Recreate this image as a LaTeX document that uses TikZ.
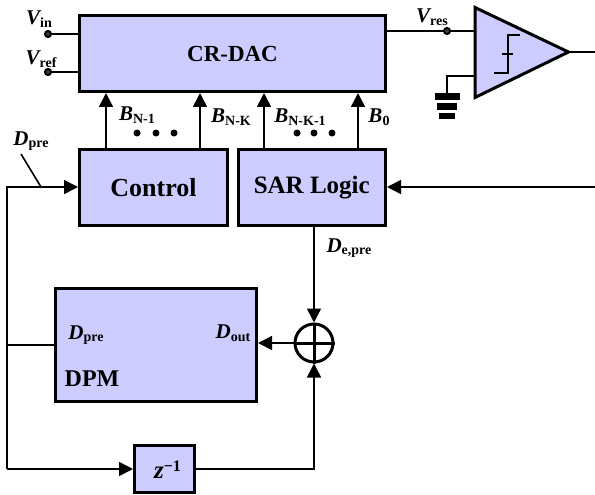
\documentclass[tikz,border=0pt]{standalone}
\usepackage{fontspec}
\setmainfont{Liberation Serif}
\usetikzlibrary{arrows.meta}
\definecolor{blockblue}{HTML}{CCCCFF}
\newcommand{\siglabel}[2]{{\fontsize{21}{21}\selectfont\bfseries\itshape #1}\raisebox{-2.5pt}{\fontsize{14}{14}\selectfont\bfseries #2}}
\tikzset{
  block/.style={draw, line width=3pt, fill=blockblue, inner sep=0pt, anchor=north west, font=\fontsize{24}{24}\selectfont\bfseries},
  wire/.style={line width=1.6pt},
  sig/.style={wire, -{Triangle[length=14pt,width=14pt]}},
  pin/.style={circle, draw, line width=2pt, fill=blockblue!30!black, minimum size=6pt, inner sep=0pt},
  tag/.style={inner sep=0pt},
  gndbar/.style={fill=black, inner sep=0pt, minimum height=6.5pt}
}
\begin{document}
\begin{tikzpicture}[x=1pt,y=-1pt]
  \useasboundingbox (0,0) rectangle (595,495);
  % blocks
  \node[block, minimum width=306pt, minimum height=76pt, font=\fontsize{23}{23}\selectfont\bfseries] (dac) at (78,14) {CR-DAC};
  \node[block, minimum width=148pt, minimum height=76pt, font=\fontsize{26}{26}\selectfont\bfseries] (ctrl) at (78,148) {Control};
  \node[block, minimum width=147.5pt, minimum height=76pt, font=\fontsize{25}{25}\selectfont\bfseries] (sar) at (236.5,148) {SAR Logic};
  \node[block, minimum width=201pt, minimum height=113pt] (dpm) at (54,287) {};
  \node[block, minimum width=60pt, minimum height=47pt] (zinv) at (133,444) {};
  \node[circle, draw, line width=3pt, fill=white, minimum size=38pt, inner sep=0pt] (add) at (314,343) {};
  \draw[line width=3pt] (add.west) -- (add.east) (add.north) -- (add.south);
  % comparator
  \draw[line width=3pt, fill=blockblue, line join=miter] (475,7.5) coordinate (cmpa) -- (568.5,52) coordinate (cmpo) -- (475,97.5) coordinate (cmpb) -- cycle;
  \draw[wire] (494,73) -- (508,73) -- (508,35) -- (520,35) (502,54) -- (513,54);
  % pins
  \node[pin] (vin) at (48,34) {};
  \node[pin] (vref) at (48,72) {};
  \node[pin] (vres) at (447,31) {};
  \coordinate (gnd) at (447,94);
  \coordinate (out) at (595,52);
  \coordinate (fb) at (595,187);
  \coordinate (left) at (7,187);
  \coordinate (tapa) at (7,345);
  \coordinate (tapb) at (7,469);
  % wires
  \draw[wire] (vin) -- (vin -| dac.west);
  \draw[wire] (vref) -- (vref -| dac.west);
  \draw[wire] (vres -| dac.east) -- (vres) -- (vres -| cmpa);
  \draw[wire] (cmpo) -- (out);
  \draw[wire] (cmpa |- 0,76) -- (447,76) -- (gnd);
  \foreach \y/\w/\n in {96.5/25/a,106.5/20/b,116/16/c}
    \node[gndbar, minimum width=\w pt] (gnd\n) at (447,\y) {};
  \foreach \x/\n in {106/a,200/b}
    \draw[sig] (\x,149) coordinate (bit\n) -- (bit\n |- dac.south);
  \foreach \x/\n in {264/c,358/d}
    \draw[sig] (\x,149) coordinate (bit\n) -- (bit\n |- dac.south);
  \draw[sig] (fb) -- (fb -| sar.east);
  \draw[sig] (tapb) -- (left) -- (left -| ctrl.west);
  \draw[wire] (tapa) -- (tapa -| dpm.west);
  \draw[sig] (tapb) -- (tapb -| zinv.west);
  \draw[sig] (zinv.east |- tapb) -- (add.south |- tapb) -- (add.south);
  \draw[sig] (sar.south -| add.north) -- (add.north);
  \draw[sig] (add.west) -- (add.west -| dpm.east);
  \draw[wire] (21,154) coordinate (slash) -- (41,187) coordinate (slashend);
  % labels
  \node[tag] (lvin) at (39,19) {\siglabel{V}{in}};
  \node[tag] (lvref) at (41,59) {\siglabel{V}{ref}};
  \node[tag] (lvres) at (432,17) {\siglabel{V}{res}};
  \node[tag] (lbna) at (137,115) {\siglabel{B}{N-1}};
  \node[tag] (lbnb) at (231,117) {\siglabel{B}{N-K}};
  \node[tag] (lbnc) at (300,117) {\siglabel{B}{N-K-1}};
  \node[tag] (lbnd) at (379,117) {\siglabel{B}{0}};
  \node[tag] (ldpre) at (31,141) {\siglabel{D}{pre}};
  \node[tag] (ldepre) at (349,248) {\siglabel{D}{e,pre}};
  \node[tag] (ldpreb) at (86,335) {\siglabel{D}{pre}};
  \node[tag] (ldout) at (233,333) {\siglabel{D}{out}};
  \node[tag, font=\fontsize{24}{24}\selectfont\bfseries] (ldpm) at (92,379) {DPM};
  \node[tag] (lz) at (167.5,470) {{\fontsize{25}{25}\selectfont\bfseries\itshape z}\raisebox{7pt}{\fontsize{16}{16}\selectfont\bfseries −1}};
  % dots
  \foreach \x in {137,156,174}
    \fill (\x,133) circle (3.5pt);
  \foreach \x in {297,314,332}
    \fill (\x,133) circle (3.5pt);
\end{tikzpicture}
\end{document}
